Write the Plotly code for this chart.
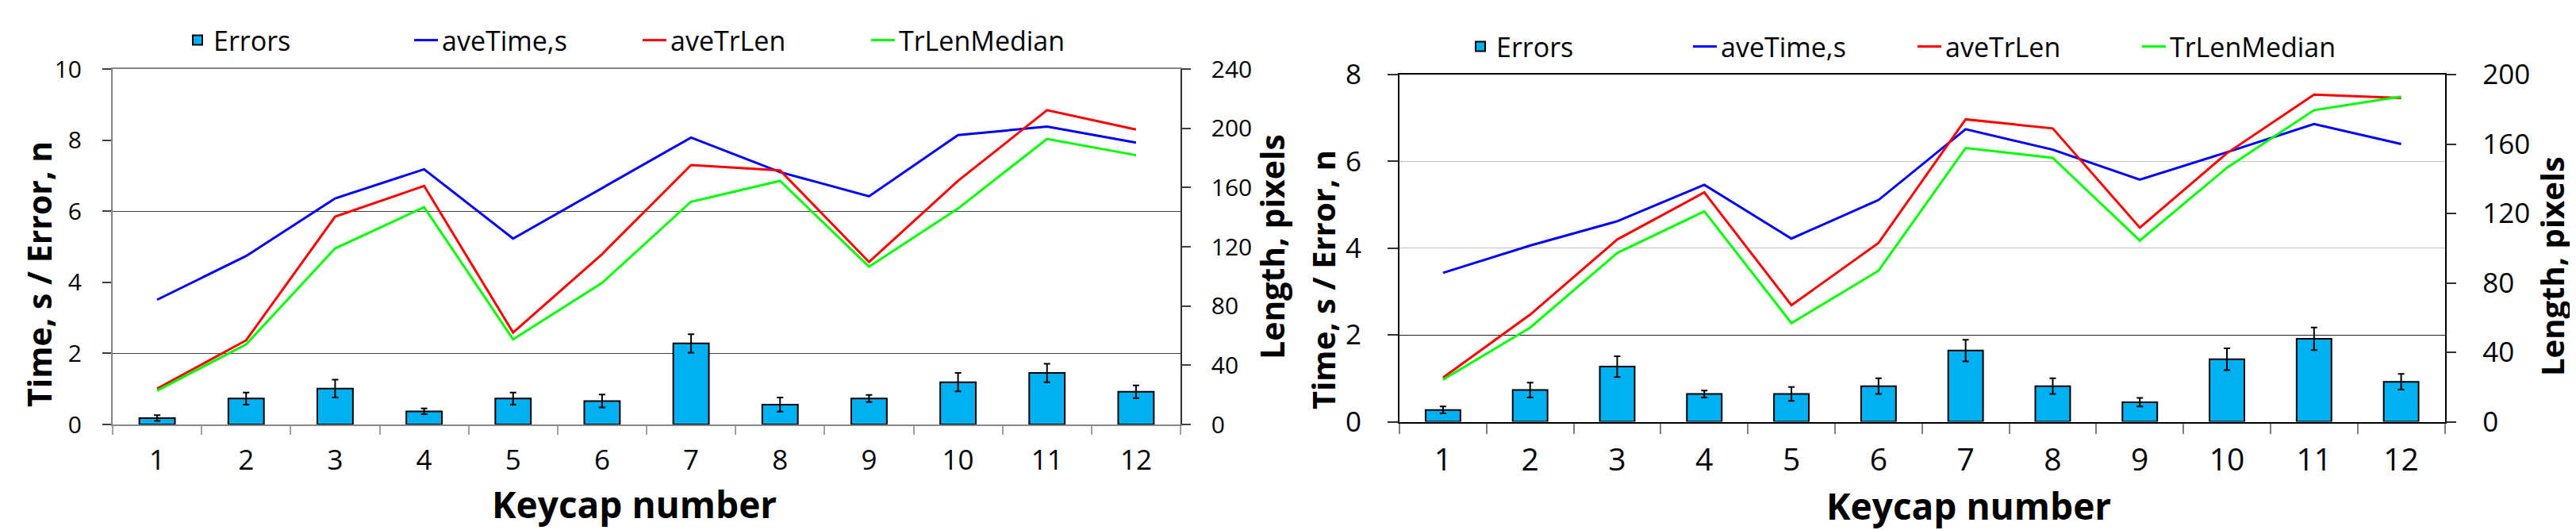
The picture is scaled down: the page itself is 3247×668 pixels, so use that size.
import plotly.graph_objects as go

W, H = 3247, 668

keycaps = [str(i) for i in range(1, 13)]

# ---- Left chart data ----
a_errors = [0.18, 0.73, 1.01, 0.37, 0.73, 0.66, 2.28, 0.56, 0.73, 1.19, 1.45, 0.92]
a_errors_sd = [0.08, 0.17, 0.25, 0.08, 0.17, 0.18, 0.26, 0.20, 0.10, 0.26, 0.26, 0.18]
a_ave_time = [3.51, 4.74, 6.36, 7.18, 5.23, 6.65, 8.07, 7.10, 6.42, 8.14, 8.38, 7.93]
a_ave_trlen = [24.2, 56.8, 140.3, 161.1, 62.1, 115.0, 175.2, 171.6, 109.7, 164.5, 212.2, 199.2]
a_trlen_median = [22.8, 54.1, 118.9, 146.7, 57.5, 95.6, 150.4, 164.5, 106.5, 145.8, 192.8, 181.8]

# ---- Right chart data ----
b_errors = [0.27, 0.73, 1.27, 0.64, 0.64, 0.82, 1.64, 0.82, 0.45, 1.44, 1.91, 0.92]
b_errors_sd = [0.08, 0.17, 0.24, 0.08, 0.16, 0.18, 0.25, 0.18, 0.10, 0.25, 0.26, 0.18]
b_ave_time = [3.43, 4.06, 4.62, 5.46, 4.22, 5.11, 6.74, 6.27, 5.58, 6.21, 6.86, 6.40]
b_ave_trlen = [25.4, 61.7, 105.0, 132.1, 67.1, 103.0, 174.2, 169.0, 111.8, 154.7, 188.5, 186.5]
b_trlen_median = [24.2, 54.2, 97.2, 121.2, 56.8, 87.0, 157.7, 152.0, 104.4, 146.3, 179.5, 187.3]

series_names = ["Errors", "aveTime,s", "aveTrLen", "TrLenMedian"]
x_title = "Keycap number"
left_title = "Time, s / Error, n"
right_title = "Length, pixels"

BAR_COLOR = "#00B0F0"
BLUE, RED, GREEN = "#0000FF", "#FF0000", "#00FF00"
FONT = "Open Sans"

fig = go.Figure()


def add_chart(xa, ya, ya2, leg, errors, sd, ave_time, ave_trlen, median):
    fig.add_trace(go.Bar(
        x=keycaps, y=errors, name=series_names[0], width=0.4,
        marker=dict(color=BAR_COLOR, line=dict(color="black", width=2)),
        error_y=dict(type="data", array=sd, color="black", thickness=2, width=4),
        xaxis=xa, yaxis=ya, legend=leg))
    fig.add_trace(go.Scatter(
        x=keycaps, y=ave_time, name=series_names[1], mode="lines",
        line=dict(color=BLUE, width=3), xaxis=xa, yaxis=ya, legend=leg))
    fig.add_trace(go.Scatter(
        x=keycaps, y=ave_trlen, name=series_names[2], mode="lines",
        line=dict(color=RED, width=3), xaxis=xa, yaxis=ya2, legend=leg))
    fig.add_trace(go.Scatter(
        x=keycaps, y=median, name=series_names[3], mode="lines",
        line=dict(color=GREEN, width=3), xaxis=xa, yaxis=ya2, legend=leg))


add_chart("x", "y", "y2", "legend", a_errors, a_errors_sd, a_ave_time, a_ave_trlen, a_trlen_median)
add_chart("x2", "y3", "y4", "legend2", b_errors, b_errors_sd, b_ave_time, b_ave_trlen, b_trlen_median)


def px_x(v):
    return v / W


def px_y(v):
    return (H - v) / H


# left chart geometry
L_x = [px_x(134), px_x(1480)]
L_y = [px_y(527), px_y(79)]
# right chart geometry
R_x = [px_x(1756), px_x(3073.5)]
R_y = [px_y(523.5), px_y(86)]

common_x = dict(type="category", tickson="boundaries", ticks="outside",
                showgrid=False, zeroline=False, showline=True, mirror=True)
common_y = dict(ticks="outside", showgrid=False, zeroline=False, showline=True, tick0=0)

fig.update_layout(
    width=W, height=H,
    margin=dict(l=0, r=0, t=0, b=0, pad=0, autoexpand=False),
    paper_bgcolor="white", plot_bgcolor="white",
    font=dict(family=FONT, color="black"),
    showlegend=True,
    xaxis=dict(common_x, domain=L_x, anchor="y", ticklen=11, tickwidth=1.5,
               tickcolor="#a0a0a0", linecolor="#868686", linewidth=2,
               tickfont=dict(family=FONT, size=35, color="black"), ticklabelstandoff=13),
    yaxis=dict(common_y, domain=L_y, anchor="x", range=[0, 10], dtick=2,
               ticklen=11, tickwidth=1.5, tickcolor="#404040",
               linecolor="#868686", linewidth=2,
               tickfont=dict(family=FONT, size=30, color="black"), ticklabelstandoff=20,
               minor=dict(tickvals=[2, 6], showgrid=True, gridcolor="#404040",
                          gridwidth=1, ticks="")),
    yaxis2=dict(common_y, overlaying="y", side="right", anchor="x", range=[0, 240], dtick=40,
                ticklen=11, tickwidth=1.5, tickcolor="#404040",
                linecolor="#303030", linewidth=1.5,
                tickfont=dict(family=FONT, size=30, color="black"), ticklabelstandoff=20),
    xaxis2=dict(common_x, domain=R_x, anchor="y3", ticklen=13, tickwidth=1.5,
                tickcolor="#808080", linecolor="black", linewidth=2,
                tickfont=dict(family=FONT, size=39, color="black"), ticklabelstandoff=13),
    yaxis3=dict(common_y, domain=R_y, anchor="x2", range=[0, 8], dtick=2,
                ticklen=13, tickwidth=1.5, tickcolor="#303030",
                linecolor="black", linewidth=2,
                tickfont=dict(family=FONT, size=35, color="black"), ticklabelstandoff=26,
                minor=dict(tickvals=[4, 6], showgrid=True, gridcolor="#c0c0c0",
                           gridwidth=1, ticks="")),
    yaxis4=dict(common_y, overlaying="y3", side="right", anchor="x2", range=[0, 200], dtick=40,
                ticklen=13, tickwidth=1.5, tickcolor="#303030",
                linecolor="black", linewidth=1.5,
                tickfont=dict(family=FONT, size=35, color="black"), ticklabelstandoff=26,
                minor=dict(tickvals=[50], showgrid=True, gridcolor="#202020",
                           gridwidth=1, ticks="")),
    legend=dict(orientation="h", x=px_x(221), xanchor="left", y=px_y(43), yanchor="middle",
                font=dict(family=FONT, size=34, color="black"), entrywidth=243,
                bgcolor="rgba(0,0,0,0)", borderwidth=0),
    legend2=dict(orientation="h", x=px_x(1838), xanchor="left", y=px_y(51), yanchor="middle",
                 font=dict(family=FONT, size=34, color="black"), entrywidth=238,
                 bgcolor="rgba(0,0,0,0)", borderwidth=0),
)

title_font_x = dict(family=FONT, size=46, color="black", weight="bold")
title_font_yl = dict(family=FONT, size=41, color="black", weight="bold")
title_font_yr = dict(family=FONT, size=40, color="black", weight="bold")

annots = [
    dict(text=x_title, x=px_x(791), y=px_y(627), font=title_font_x, textangle=0),
    dict(text=left_title, x=px_x(41), y=px_y(338), font=title_font_yl, textangle=-90),
    dict(text=right_title, x=px_x(1595), y=px_y(303), font=title_font_yl, textangle=-90),
    dict(text=x_title, x=px_x(2473), y=px_y(629), font=title_font_x, textangle=0),
    dict(text=left_title, x=px_x(1659), y=px_y(345), font=title_font_yr, textangle=-90),
    dict(text=right_title, x=px_x(3208), y=px_y(328), font=title_font_yr, textangle=-90),
]
for a in annots:
    fig.add_annotation(xref="paper", yref="paper", showarrow=False,
                       xanchor="center", yanchor="middle", **a)

fig.write_html("out.html")
